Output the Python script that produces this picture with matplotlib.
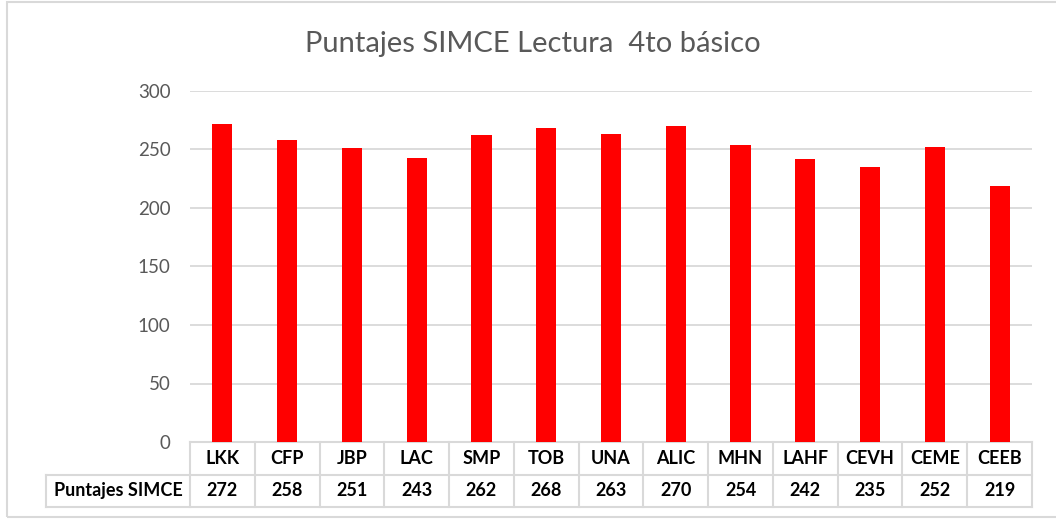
import matplotlib.pyplot as plt
import matplotlib.transforms as mtransforms
from matplotlib.patches import Rectangle

# Datos
escuelas = ['LKK', 'CFP', 'JBP', 'LAC', 'SMP', 'TOB', 'UNA', 'ALIC',
            'MHN', 'LAHF', 'CEVH', 'CEME', 'CEEB']
puntajes = [272, 258, 251, 243, 262, 268, 263, 270, 254, 242, 235, 252, 219]
serie = 'Puntajes SIMCE'
titulo = 'Puntajes SIMCE Lectura  4to básico'
yticks = [0, 50, 100, 150, 200, 250, 300]

plt.rcParams['font.family'] = ['Lato', 'DejaVu Sans']
gris = '#d9d9d9'

fig = plt.figure(figsize=(10.56, 5.19), dpi=100)
ax = fig.add_axes([190 / 1056, 1 - 442 / 519, 842 / 1056, 351 / 519])

# Borde exterior del gráfico
fig.patches.append(Rectangle((7 / 1056, 2 / 519), 1.1, 515 / 519,
                             transform=fig.transFigure, fill=False,
                             edgecolor=gris, linewidth=1.5))

x = list(range(len(escuelas)))
ax.bar(x, puntajes, width=0.31, color='#ff0000', zorder=3)

ax.set_xlim(-0.5, len(escuelas) - 0.5)
ax.set_ylim(0, 300)
ax.set_yticks(yticks)
ax.set_xticks([])
ax.tick_params(axis='y', length=0, pad=14, labelsize=13.5, labelcolor='#595959')
ax.grid(axis='y', color=gris, linewidth=1.3, zorder=0)
for s in ax.spines.values():
    s.set_visible(False)

fig.text(533 / 1056, 1 - 44 / 519, titulo, ha='center', va='center',
         fontsize=21, color='#595959')

# Tabla de datos bajo el eje
trans = mtransforms.blended_transform_factory(ax.transData, ax.transAxes)
h = 32.5 / 351
lab_x0 = -0.5 - 144 / (842 / len(escuelas))
linea = dict(color=gris, linewidth=1.5, transform=trans, clip_on=False)

ax.plot([-0.5, len(escuelas) - 0.5], [0, 0], **linea)
ax.plot([lab_x0, len(escuelas) - 0.5], [-h, -h], **linea)
ax.plot([lab_x0, len(escuelas) - 0.5], [-2 * h, -2 * h], **linea)
ax.plot([lab_x0, lab_x0], [-h, -2 * h], **linea)
for i in range(len(escuelas) + 1):
    ax.plot([i - 0.5, i - 0.5], [0, -2 * h], **linea)

txt = dict(transform=trans, ha='center', va='center', fontsize=13,
           fontweight='bold', color='black', clip_on=False)
for i, (e, p) in enumerate(zip(escuelas, puntajes)):
    ax.text(i, -h / 2, e, **txt)
    ax.text(i, -1.5 * h, str(p), **txt)
ax.text((lab_x0 - 0.5) / 2, -1.5 * h, serie, **txt)

fig.savefig('out.png', dpi=100)
